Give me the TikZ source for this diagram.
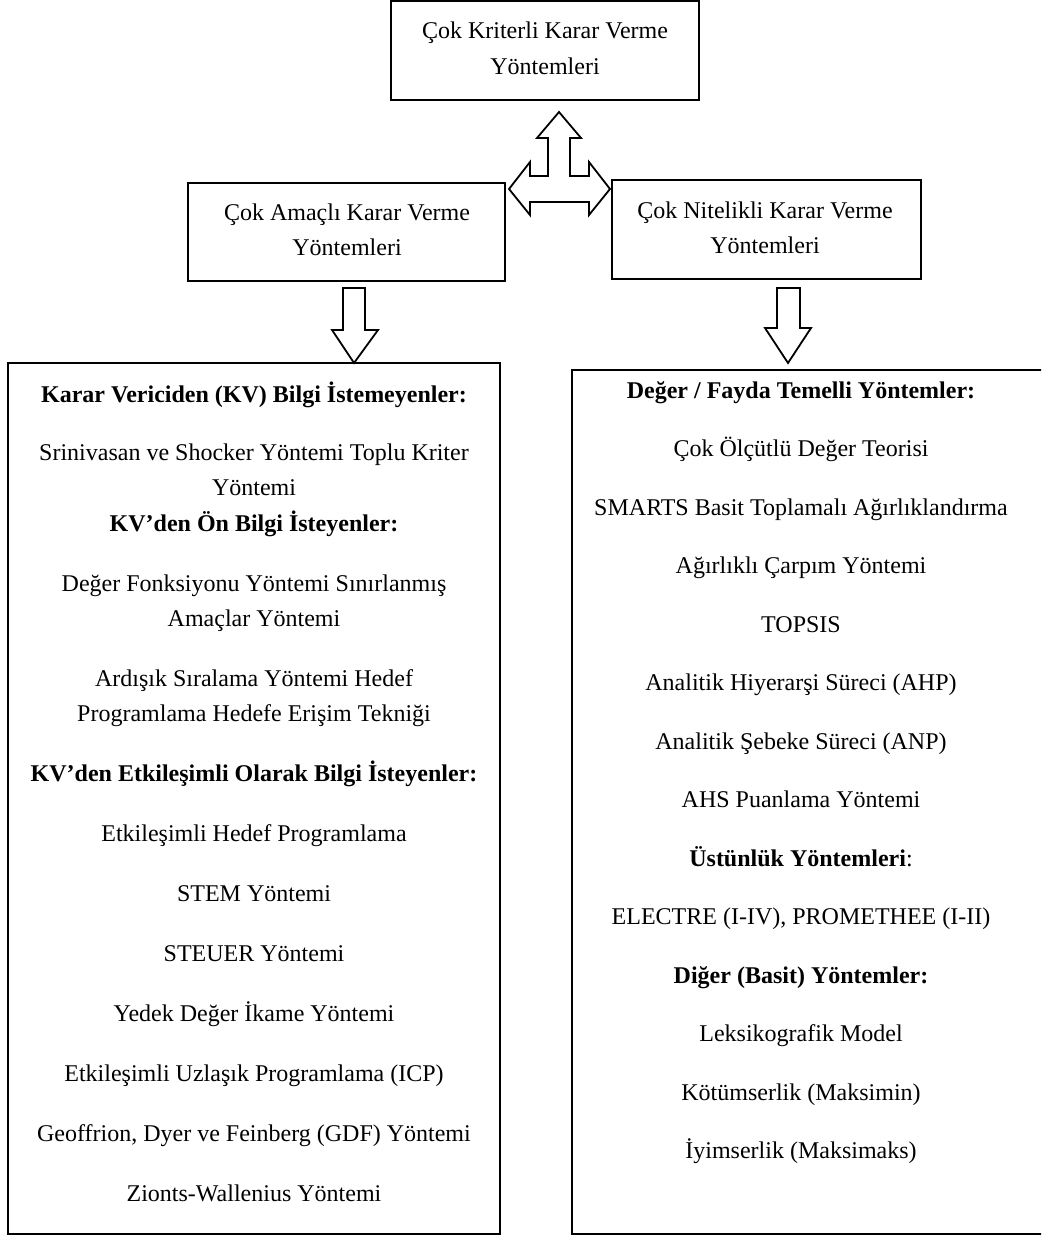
\documentclass[tikz,border=0pt]{standalone}
\usepackage{fontspec}
\setmainfont{Liberation Serif}
\begin{document}
\begin{tikzpicture}[x=1pt,y=-1pt,
  box/.style={draw, line width=2.2pt, rectangle, inner sep=0pt},
  blk/.style={draw, line width=1.8pt, fill=white, line join=miter},
  txt/.style={anchor=base, inner sep=0pt, font=\fontsize{24}{35}\selectfont},
  hd/.style={txt, font=\fontsize{24}{35}\selectfont\bfseries}]
\useasboundingbox (0,0) rectangle (1041,1236);
\clip (0,0) rectangle (1041,1236);
% boxes
\node[box, minimum width=308pt, minimum height=99pt] (top) at (545,50.5) {};
\node[box, minimum width=317pt, minimum height=98pt] (cam) at (346.5,232) {};
\node[box, minimum width=309pt, minimum height=99pt] (cnk) at (766.5,229.5) {};
\node[box, minimum width=492pt, minimum height=871pt] (lbox) at (254,798.5) {};
\node[box, minimum width=472pt, minimum height=864pt] (rbox) at (808,802) {};
% box titles
\node[txt] (t1) at (545,39) {Çok Kriterli Karar Verme};
\node[txt] (t2) at (545,75) {Yöntemleri};
\node[txt] (a1) at (347,220) {Çok Amaçlı Karar Verme};
\node[txt] (a2) at (347,255) {Yöntemleri};
\node[txt] (n1) at (765,218) {Çok Nitelikli Karar Verme};
\node[txt] (n2) at (765,253) {Yöntemleri};
% three-way block arrow
\draw[blk] (559,112) -- (581,138) -- (570,138) -- (570,176) -- (589,176) -- (589,162)
  -- (610,189) -- (589,215) -- (589,202) -- (530,202) -- (530,215) -- (509,189)
  -- (530,162) -- (530,176) -- (548,176) -- (548,138) -- (537,138) -- cycle;
% down block arrows
\draw[blk] (343,288) -- (365,288) -- (365,330) -- (378,330) -- (354,363) -- (332,330) -- (343,330) -- cycle;
\draw[blk] (777,288) -- (800,288) -- (800,328) -- (811,328) -- (788,363) -- (765,328) -- (777,328) -- cycle;
% left list
\node[hd]  (l1)  at (254,402) {Karar Vericiden (KV) Bilgi İstemeyenler:};
\node[txt] (l2)  at (254,460) {Srinivasan ve Shocker Yöntemi Toplu Kriter};
\node[txt] (l3)  at (254,495) {Yöntemi};
\node[hd]  (l4)  at (254,531) {KV’den Ön Bilgi İsteyenler:};
\node[txt] (l5)  at (254,591) {Değer Fonksiyonu Yöntemi Sınırlanmış};
\node[txt] (l6)  at (254,626) {Amaçlar Yöntemi};
\node[txt] (l7)  at (254,686) {Ardışık Sıralama Yöntemi Hedef};
\node[txt] (l8)  at (254,721) {Programlama Hedefe Erişim Tekniği};
\node[hd]  (l9)  at (254,781) {KV’den Etkileşimli Olarak Bilgi İsteyenler:};
\node[txt] (l10) at (254,841) {Etkileşimli Hedef Programlama};
\node[txt] (l11) at (254,901) {STEM Yöntemi};
\node[txt] (l12) at (254,961) {STEUER Yöntemi};
\node[txt] (l13) at (254,1021) {Yedek Değer İkame Yöntemi};
\node[txt] (l14) at (254,1081) {Etkileşimli Uzlaşık Programlama (ICP)};
\node[txt] (l15) at (254,1141) {Geoffrion, Dyer ve Feinberg (GDF) Yöntemi};
\node[txt] (l16) at (254,1201) {Zionts-Wallenius Yöntemi};
% right list
\node[hd]  (r1)  at (801,398) {Değer / Fayda Temelli Yöntemler:};
\node[txt] (r2)  at (801,456.5) {Çok Ölçütlü Değer Teorisi};
\node[txt] (r3)  at (801,515) {SMARTS Basit Toplamalı Ağırlıklandırma};
\node[txt] (r4)  at (801,573.5) {Ağırlıklı Çarpım Yöntemi};
\node[txt] (r5)  at (801,632) {TOPSIS};
\node[txt] (r6)  at (801,690.5) {Analitik Hiyerarşi Süreci (AHP)};
\node[txt] (r7)  at (801,749) {Analitik Şebeke Süreci (ANP)};
\node[txt] (r8)  at (801,807.5) {AHS Puanlama Yöntemi};
\node[txt] (r9)  at (801,866) {\textbf{Üstünlük Yöntemleri}:};
\node[txt] (r10) at (801,924.5) {ELECTRE (I-IV), PROMETHEE (I-II)};
\node[hd]  (r11) at (801,983) {Diğer (Basit) Yöntemler:};
\node[txt] (r12) at (801,1041.5) {Leksikografik Model};
\node[txt] (r13) at (801,1100) {Kötümserlik (Maksimin)};
\node[txt] (r14) at (801,1158.5) {İyimserlik (Maksimaks)};
\end{tikzpicture}
\end{document}
